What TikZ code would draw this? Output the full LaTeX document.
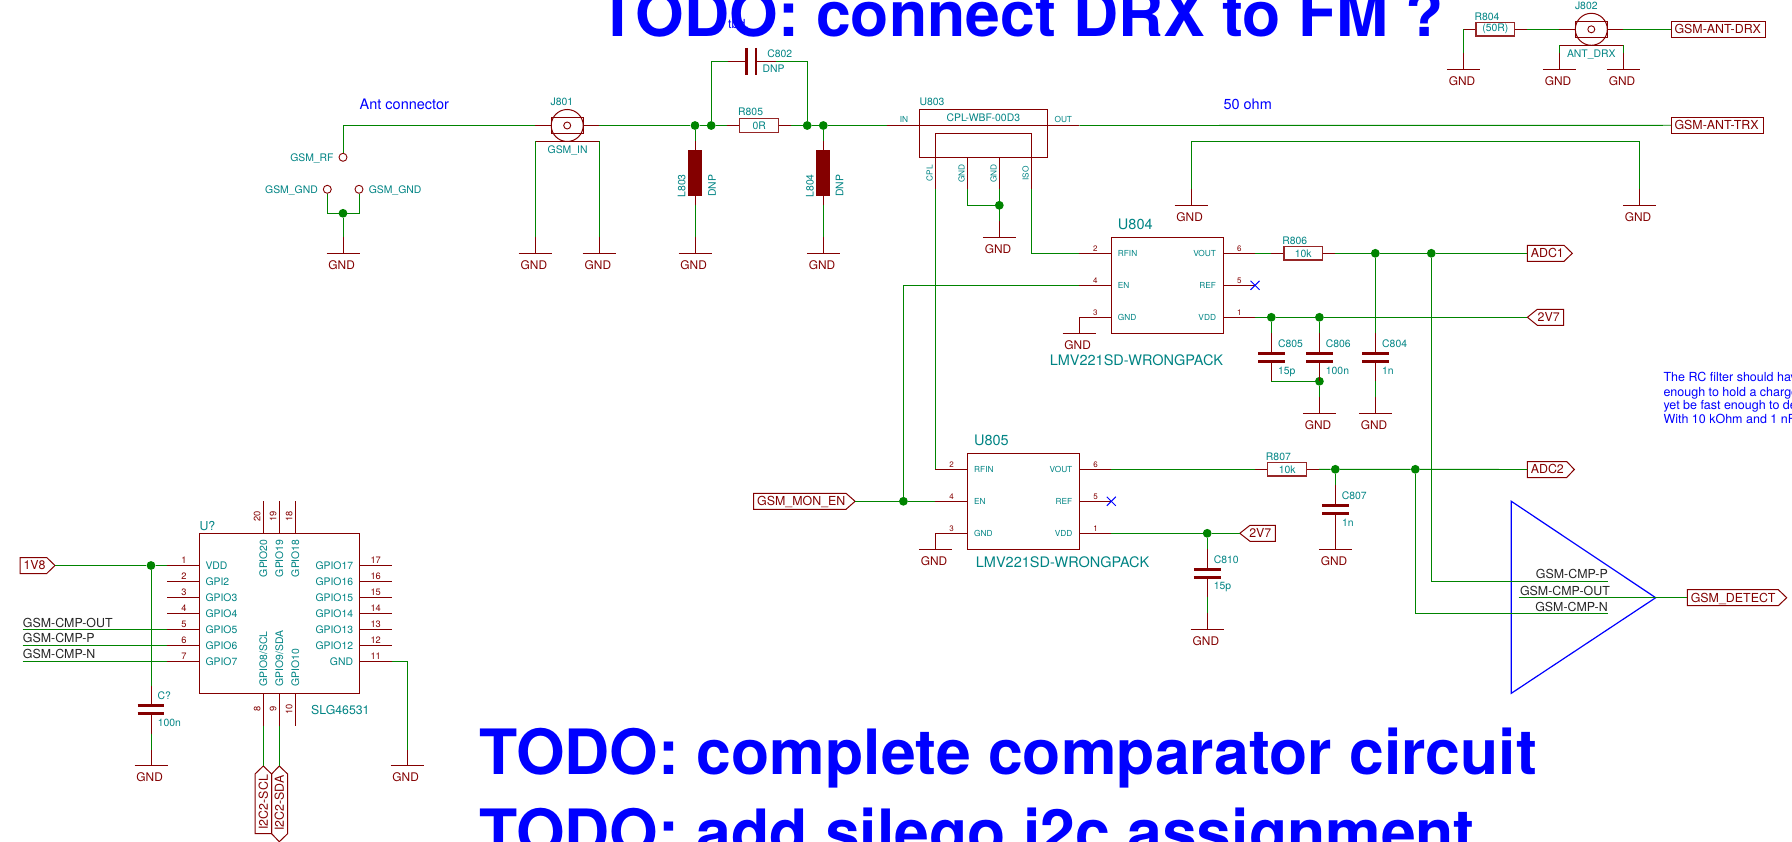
\documentclass[tikz,border=0pt]{standalone}
\usepackage{fontspec}
\setmainfont{TeX Gyre Heros}
\definecolor{kr}{RGB}{132,0,0}
\definecolor{wg}{RGB}{0,132,0}
\definecolor{kt}{RGB}{0,132,132}
\definecolor{kb}{RGB}{0,0,255}
\newcount\tcnt
\newcommand{\fs}[1]{\fontsize{#1}{#1}\selectfont}
\tikzset{
  x=1pt,y=-1pt,
  wire/.style={draw=wg,line width=.9pt},
  pinl/.style={draw=kr,line width=.9pt},
  boxl/.style={draw=kr,line width=1pt},
  lab/.style={draw=kr,line width=1pt,line join=miter},
  juncd/.style={circle,fill=wg,draw=none,minimum size=8.8pt,inner sep=0pt},
  tpt/.style={circle,draw=kr,line width=.9pt,fill=none,minimum size=8pt,inner sep=0pt},
  plate/.style={draw=kr,line width=2.8pt},
  resb/.style={rectangle,draw=kr!85,line width=1.1pt,fill=white,minimum width=38.6pt,minimum height=13.4pt,inner sep=0pt},
  indb/.style={rectangle,draw=none,fill=kr,minimum width=14pt,minimum height=45.6pt,inner sep=0pt},
  txt/.style={inner sep=0pt,text depth=0pt},
  tl/.style={txt,text height=7.5pt,text=kt,font=\fs{10.4}},
  ts/.style={txt,text height=6pt,text=kt,font=\fs{8.3}},
  tm/.style={txt,text height=8.9pt,text=kt,font=\fs{12.3}},
  tb/.style={txt,text height=10.4pt,text=kt,font=\fs{14.5}},
  tn/.style={txt,text height=5.8pt,text=kr,font=\fs{8}},
  tnb/.style={txt,text height=6.7pt,text=kr,font=\fs{9.3}},
  tg/.style={txt,text height=8.6pt,text=kr,font=\fs{11.9}},
  tlab/.style={txt,text height=8.9pt,text=kr,font=\fs{12.4}},
  tk/.style={txt,text height=8.9pt,text=black!85,font=\fs{12.4}},
  note/.style={txt,text height=9pt,text=kb,font=\fs{12.5}},
  noteb/.style={txt,text height=10.4pt,text=kb,font=\fs{14.5}},
  huge/.style={inner sep=0pt,text=kb,font=\bfseries\fs{62.5},anchor=base west},
}
% generic named text
\newcommand{\tx}[4][tl]{\global\advance\tcnt by 1 \node[#1] (t\the\tcnt) at (#2,#3) {#4};}
\newcommand{\cn}[3]{\coordinate (#1) at (#2,#3);}
\newcommand{\jn}[3]{\node[juncd] (#1) at (#2,#3) {};}
% ground symbol: name, x, y of bar; name is the top of its stem
\newcommand{\gnd}[3]{%
  \coordinate (#1) at (#2,{#3-16});
  \coordinate (#1-b) at (#2,#3);
  \draw[pinl] (#1) -- (#1-b);
  \draw[pinl] ([xshift=-16.5pt]#1-b) -- ([xshift=16.5pt]#1-b);
  \tx[tg]{{#2-1.3}}{{#3+11.7}}{GND}}
% vertical capacitor: name, x, centre y
\newcommand{\capv}[3]{%
  \coordinate (#1-a) at (#2,{#3-24});
  \coordinate (#1-b) at (#2,{#3+24});
  \coordinate (#1-p) at (#2,{#3-4});
  \coordinate (#1-q) at (#2,{#3+4});
  \draw[pinl] (#1-a) -- (#1-p);
  \draw[pinl] (#1-q) -- (#1-b);
  \draw[plate] ([xshift=-13.3pt]#1-p) -- ([xshift=13.3pt]#1-p);
  \draw[plate] ([xshift=-13.3pt]#1-q) -- ([xshift=13.3pt]#1-q);}
% horizontal resistor: name, centre x, y, value
\newcommand{\resh}[4]{%
  \coordinate (#1-a) at ({#2-32},#3);
  \coordinate (#1-b) at ({#2+32},#3);
  \node[resb] (#1) at (#2,#3) {\fs{10.4}\textcolor{kt}{#4}};
  \draw[pinl] (#1-a) -- (#1);
  \draw[pinl] (#1) -- (#1-b);}
% inductor: name, x
\newcommand{\indv}[2]{%
  \node[indb] (#1) at (#2,173.3) {};
  \coordinate (#1-a) at (#2,141.3);
  \coordinate (#1-b) at (#2,205.3);
  \draw[pinl] (#1-a) -- (#1);
  \draw[pinl] (#1) -- (#1-b);}
% coax connector: name, x, y
\newcommand{\conn}[3]{%
  \node[circle,draw=kr,line width=1pt,minimum size=32pt,inner sep=0pt] (#1) at (#2,#3) {};
  \node[circle,draw=kr,line width=.9pt,minimum size=7pt,inner sep=0pt] (#1-c) at (#2,#3) {};
  \draw[boxl] ({#2-16},{#3-8}) rectangle ({#2+16},{#3+8});
  \coordinate (#1-a) at ({#2-32},#3);
  \coordinate (#1-b) at ({#2+32},#3);
  \coordinate (#1-g) at ({#2-32},{#3+16});
  \coordinate (#1-h) at ({#2+32},{#3+16});
  \draw[pinl] (#1-a) -- ({#2-16},#3);
  \draw[pinl] ({#2+16},#3) -- (#1-b);
  \draw[pinl] (#1-g) -- (#1-h);}
% LMV221 block: name, x left, y top
\newcommand{\lmv}[3]{%
  \node[rectangle,draw=kr,line width=1pt,minimum width=112pt,minimum height=96pt,inner sep=0pt] (#1) at ({#2+56},{#3+48}) {};
  \coordinate (#1-2) at ({#2-32},{#3+16});
  \coordinate (#1-4) at ({#2-32},{#3+48});
  \coordinate (#1-3) at ({#2-32},{#3+80});
  \coordinate (#1-6) at ({#2+144},{#3+16});
  \coordinate (#1-5) at ({#2+144},{#3+48});
  \coordinate (#1-1) at ({#2+144},{#3+80});
  \draw[pinl] (#1-2) -- ({#2},{#3+16});
  \draw[pinl] (#1-4) -- ({#2},{#3+48});
  \draw[pinl] (#1-3) -- ({#2},{#3+80});
  \draw[pinl] (#1-6) -- ({#2+112},{#3+16});
  \draw[pinl] (#1-5) -- ({#2+112},{#3+48});
  \draw[pinl] (#1-1) -- ({#2+112},{#3+80});
  \tx[tn]{{#2-15.6}}{{#3+11}}{2}\tx[tn]{{#2-15.6}}{{#3+43}}{4}\tx[tn]{{#2-15.6}}{{#3+75}}{3}
  \tx[tn]{{#2+128.4}}{{#3+11}}{6}\tx[tn]{{#2+128.4}}{{#3+43}}{5}\tx[tn]{{#2+128.4}}{{#3+75}}{1}
  \tx[ts,anchor=west]{{#2+6.7}}{{#3+16.5}}{RFIN}\tx[ts,anchor=west]{{#2+6.7}}{{#3+48.5}}{EN}\tx[ts,anchor=west]{{#2+6.7}}{{#3+80.5}}{GND}
  \tx[ts,anchor=east]{{#2+105.2}}{{#3+16.5}}{VOUT}\tx[ts,anchor=east]{{#2+105.2}}{{#3+48.5}}{REF}\tx[ts,anchor=east]{{#2+105.2}}{{#3+80.5}}{VDD}
  \draw[draw=kb,line width=1pt] ([shift={(-4.5pt,-4.5pt)}]#1-5) -- ([shift={(4.5pt,4.5pt)}]#1-5);
  \draw[draw=kb,line width=1pt] ([shift={(-4.5pt,4.5pt)}]#1-5) -- ([shift={(4.5pt,-4.5pt)}]#1-5);}
% plain box label: name, x1, x2, y, text
\newcommand{\rlab}[5]{%
  \coordinate (#1) at (#2,#4);
  \draw[lab] (#2,{#4-8}) rectangle (#3,{#4+8});
  \tx[tlab,anchor=west]{{#2+3.3}}{#4}{#5}}
% output label: name, x1, shoulder, tip, y, text
\newcommand{\olab}[6]{%
  \coordinate (#1) at (#2,#5);
  \coordinate (#1-t) at (#4,#5);
  \draw[lab] (#2,{#5-8}) -- (#3,{#5-8}) -- (#4,#5) -- (#3,{#5+8}) -- (#2,{#5+8}) -- cycle;
  \tx[tlab,anchor=west]{{#2+3.3}}{#5}{#6}}
% input label: name, tip, shoulder, x2, y, text
\newcommand{\ilab}[6]{%
  \coordinate (#1) at (#2,#5);
  \draw[lab] (#2,#5) -- (#3,{#5-8}) -- (#4,{#5-8}) -- (#4,{#5+8}) -- (#3,{#5+8}) -- cycle;
  \tx[tlab,anchor=east]{{#4-3.8}}{#5}{#6}}
\begin{document}
\begin{tikzpicture}
\useasboundingbox (0,0) rectangle (1792,842);
\fill[white] (0,0) rectangle (1792,842);
\clip (0,0) rectangle (1792,842);

% ---------- big notes
\tx[note]{738.5}{24}{tbd.}
\tx[huge]{598.5}{36.7}{TODO: connect DRX to FM ?}
\tx[huge]{479}{774.7}{TODO: complete comparator circuit}
\tx[huge]{479}{854.7}{TODO: add silego i2c assignment}
\tx[noteb,anchor=west]{359.5}{104}{Ant connector}
\tx[noteb,anchor=west]{1223.3}{104}{50 ohm}
\tx[note,anchor=west]{1663.3}{377.3}{The RC filter should have}
\tx[note,anchor=west]{1663.3}{391.5}{enough to hold a charge}
\tx[note,anchor=west]{1663.3}{405}{yet be fast enough to detect}
\tx[note,anchor=west]{1663.3}{418.7}{With 10 kOhm and 1 nF}

% ---------- antenna input
\node[tpt] (tpRF) at (343,157.3) {};
\node[tpt] (tpG1) at (327.3,189.3) {};
\node[tpt] (tpG2) at (359,189.3) {};
\tx[tl,anchor=east]{333.8}{157.3}{GSM\_RF}
\tx[tl,anchor=east]{318}{189.3}{GSM\_GND}
\tx[tl,anchor=west]{368.6}{189.3}{GSM\_GND}
\cn{rfc}{343}{125.5}
\jn{jtp}{343}{213.3}
\cn{tpa}{327.3}{213.3}
\cn{tpb}{359}{213.3}
\gnd{g1}{343}{253.3}
\draw[wire] (tpRF) -- (rfc);
\draw[wire] (tpG1) -- (tpa) -- (tpb) -- (tpG2);
\draw[wire] (jtp) -- (g1);

\conn{J801}{567.2}{125.5}
\tx{562}{101.3}{J801}
\tx{567.6}{149.7}{GSM\_IN}
\gnd{g2}{535.2}{253.3}
\gnd{g3}{599.2}{253.3}
\draw[wire] (rfc) -- (J801-a);
\draw[wire] (J801-g) -- (g2);
\draw[wire] (J801-h) -- (g3);

% ---------- pi network
\jn{j695}{695}{125.5}
\jn{j711}{711.2}{125.5}
\jn{j807}{807.2}{125.5}
\jn{j823}{823.3}{125.5}
\resh{R805}{759.2}{125.5}{0R}
\tx{750.6}{112}{R805}
\indv{L803}{695}
\indv{L804}{823.3}
\tx[tl,rotate=90]{681.7}{186}{L803}
\tx[tl,rotate=90]{712}{186}{DNP}
\tx[tl,rotate=90]{809.9}{186}{L804}
\tx[tl,rotate=90]{839.7}{186}{DNP}
\gnd{g4}{695}{253.3}
\gnd{g5}{823.3}{253.3}
\cn{C802-a}{727.6}{61.3}
\cn{C802-b}{775.6}{61.3}
\cn{C802-l}{711.2}{61.3}
\cn{C802-r}{807.2}{61.3}
\cn{C802-p}{746.7}{61.3}
\cn{C802-q}{756}{61.3}
\draw[pinl] (C802-a) -- (C802-p);
\draw[pinl] (C802-q) -- (C802-b);
\draw[plate] (746.7,48) -- (746.7,74.7);
\draw[plate] (756,48) -- (756,74.7);
\tx{779.7}{53.3}{C802}
\tx{773.5}{69}{DNP}
\draw[wire] (j711) -- (C802-l) -- (C802-a);
\draw[wire] (C802-b) -- (C802-r) -- (j807);
\draw[wire] (J801-b) -- (j695) -- (j711) -- (R805-a);
\draw[wire] (R805-b) -- (j807) -- (j823);
\draw[wire] (j695) -- (L803-a);
\draw[wire] (j823) -- (L804-a);
\draw[wire] (L803-b) -- (g4);
\draw[wire] (L804-b) -- (g5);

% ---------- coupler U803
\node[rectangle,draw=kr,line width=1pt,minimum width=128.3pt,minimum height=48pt,inner sep=0pt] (U803) at (983.2,133.3) {};
\cn{U803-in}{887.3}{125.5}
\cn{U803-out}{1079.3}{125.5}
\cn{U803-cpl}{935.3}{189.3}
\cn{U803-g1}{967.3}{189.3}
\cn{U803-g2}{999.3}{189.3}
\cn{U803-iso}{1031.3}{189.3}
\draw[pinl] (U803-in) -- (U803-out);
\draw[pinl] (U803-cpl) -- (935.3,133.3) -- (1031.3,133.3) -- (U803-iso);
\draw[pinl] (967.3,157.3) -- (U803-g1);
\draw[pinl] (999.3,157.3) -- (U803-g2);
\tx[tl,anchor=west]{919.3}{101.3}{U803}
\tx{983.3}{117.3}{CPL-WBF-00D3}
\tx[ts]{904}{120}{IN}
\tx[ts]{1063.3}{120}{OUT}
\tx[ts,rotate=90]{929.7}{173.3}{CPL}
\tx[ts,rotate=90]{961.7}{173.3}{GND}
\tx[ts,rotate=90]{993.7}{173.3}{GND}
\tx[ts,rotate=90]{1025.7}{173.3}{ISO}
\draw[wire] (j823) -- (U803-in);
\jn{jc}{999.3}{205.3}
\cn{jcl}{967.3}{205.3}
\gnd{g6}{999.3}{237.3}
\draw[wire] (U803-g1) -- (jcl) -- (jc);
\draw[wire] (U803-g2) -- (g6);

\rlab{TRX}{1671}{1763.7}{125.3}{GSM-ANT-TRX}
\draw[wire] (U803-out) -- (TRX);

% long ground loop
\gnd{g7}{1191}{205.3}
\gnd{g8}{1639.3}{205.3}
\cn{lp1}{1191}{141.3}
\cn{lp2}{1639.3}{141.3}
\draw[wire] (g7) -- (lp1) -- (lp2) -- (g8);

% ---------- DRX corner
\resh{R804}{1495.3}{29.3}{(50R)}
\tx{1487}{16.3}{R804}
\cn{R804-c}{1463.3}{29.3}
\gnd{g9}{1463.3}{69.3}
\draw[wire] (R804-a) -- (g9);
\conn{J802}{1591.3}{29.3}
\tx{1586.3}{5.7}{J802}
\tx{1591.3}{53.3}{ANT\_DRX}
\gnd{g10}{1559.3}{69.3}
\gnd{g11}{1623.3}{69.3}
\draw[wire] (J802-g) -- (g10);
\draw[wire] (J802-h) -- (g11);
\rlab{DRX}{1671}{1765.3}{29.3}{GSM-ANT-DRX}
\draw[wire] (R804-b) -- (J802-a);
\draw[wire] (J802-b) -- (DRX);

% ---------- U804
\lmv{U804}{1111}{237.3}
\tx[tb]{1135.3}{224}{U804}
\tx[tb,anchor=east]{1223.3}{360}{LMV221SD-WRONGPACK}
\gnd{g12}{1079}{333.3}
\resh{R806}{1303.3}{253.3}{10k}
\tx{1294.7}{240.3}{R806}
\jn{j1375}{1375.3}{253.3}
\jn{j1431}{1431.3}{253.3}
\jn{j1271}{1271.3}{317.3}
\jn{j1319}{1319.4}{317.3}
\jn{j1319b}{1319.4}{381.3}
\olab{ADC1}{1527.3}{1564}{1572.3}{253.3}{ADC1}
\ilab{TVa}{1527.4}{1537.3}{1563.7}{317.3}{2V7}
\capv{C805}{1271.3}{357.3}
\capv{C806}{1319.4}{357.3}
\capv{C804}{1375.3}{357.3}
\cn{C805-c}{1271.3}{381.3}
\gnd{g13}{1319.4}{413.3}
\gnd{g14}{1375.3}{413.3}
\tx[tl,anchor=west]{1277.8}{343.3}{C805}
\tx[tl,anchor=west]{1277.8}{370.3}{15p}
\tx[tl,anchor=west]{1325.7}{343.3}{C806}
\tx[tl,anchor=west]{1325.7}{370.3}{100n}
\tx[tl,anchor=west]{1382}{343.3}{C804}
\tx[tl,anchor=west]{1382}{370.3}{1n}
\draw[wire] (U804-6) -- (R806-a);
\draw[wire] (R806-b) -- (j1375) -- (j1431) -- (ADC1);
\draw[wire] (U804-1) -- (j1271) -- (j1319) -- (TVa);
\draw[wire] (j1271) -- (C805-a);
\draw[wire] (j1319) -- (C806-a);
\draw[wire] (j1375) -- (C804-a);
\draw[wire] (C805-b) -- (j1319b);
\draw[wire] (j1319b) -- (g13);
\draw[wire] (C804-b) -- (g14);

% ---------- U805
\lmv{U805}{967.3}{453.3}
\tx[tb]{991.4}{440.3}{U805}
\tx[tb,anchor=west]{975.7}{562}{LMV221SD-WRONGPACK}
\gnd{g15}{935.3}{549.3}
\olab{MON}{753.7}{846}{855.1}{501.3}{GSM\_MON\_EN}
\jn{jmon}{903.4}{501.3}
\draw[wire] (MON-t) -- (jmon) -- (U805-4);
\cn{enc}{903.4}{285.3}
\draw[wire] (jmon) -- (enc) -- (U804-4);
\draw[wire] (U803-cpl) -- (U805-2);
\draw[wire] (U803-iso) |- (U804-2);
\resh{R807}{1287.2}{469.3}{10k}
\tx{1278.4}{456.3}{R807}
\jn{j1335}{1335.3}{469.3}
\jn{j1415}{1415.3}{469.3}
\olab{ADC2}{1527.3}{1566.7}{1574.3}{469.5}{ADC2}
\capv{C807}{1335.3}{509.3}
\gnd{g16}{1335.3}{549.3}
\tx[tl,anchor=west]{1341.7}{495.3}{C807}
\tx[tl,anchor=west]{1342}{522.3}{1n}
\draw[wire] (U805-6) -- (R807-a);
\draw[wire] (R807-b) -- (j1335) -- (j1415) -- (ADC2);
\draw[wire] (j1335) -- (C807-a);
\jn{j1207}{1207.2}{533.3}
\ilab{TVb}{1239.8}{1250}{1275.3}{533.3}{2V7}
\capv{C810}{1207.2}{573.3}
\gnd{g17}{1207.2}{629.3}
\tx[tl,anchor=west]{1213.7}{559.3}{C810}
\tx[tl,anchor=west]{1213.7}{585.7}{15p}
\draw[wire] (U805-1) -- (j1207) -- (TVb);
\draw[wire] (j1207) -- (C810-a);
\draw[wire] (C810-b) -- (g17);

% ---------- comparator
\coordinate (cmpA) at (1511.3,501.3);
\coordinate (cmpT) at (1655.7,597.7);
\coordinate (cmpB) at (1511.3,693.3);
\draw[draw=kb,line width=1.2pt,line join=miter] (cmpA) -- (cmpT) -- (cmpB) -- cycle;
\cn{cmpP}{1608}{581.7}
\cn{cmpPc}{1431.3}{581.7}
\cn{cmpN}{1608}{613.7}
\cn{cmpNc}{1415.3}{613.7}
\cn{cmpO}{1518.7}{597.7}
\olab{DET}{1687.3}{1778.3}{1786.7}{597.7}{GSM\_DETECT}
\draw[wire] (j1431) -- (cmpPc) -- (cmpP);
\draw[wire] (j1415) -- (cmpNc) -- (cmpN);
\draw[wire] (cmpO) -- (DET);
\tx[tk,anchor=east]{1608}{574.3}{GSM-CMP-P}
\tx[tk,anchor=east]{1610}{590.7}{GSM-CMP-OUT}
\tx[tk,anchor=east]{1608}{606.7}{GSM-CMP-N}

% ---------- SLG46531
\node[rectangle,draw=kr,line width=1pt,minimum width=160pt,minimum height=160pt,inner sep=0pt] (USLG) at (279.3,613.3) {};
\tx[tm,anchor=west]{199.3}{525.7}{U?}
\tx[tm,anchor=west]{311}{709.7}{SLG46531}
\foreach \n/\m [count=\i from 0] in {1/VDD,2/GPI2,3/GPIO3,4/GPIO4,5/GPIO5,6/GPIO6,7/GPIO7}{
  \coordinate (SL\n) at (167.3,{565.5+16*\i});
  \draw[pinl] (SL\n) -- (199.3,{565.5+16*\i});
  \tx[tnb]{184}{{559.7+16*\i}}{\n}
  \tx[tl,anchor=west]{205.3}{{566+16*\i}}{\m}
}
\foreach \n/\m [count=\i from 0] in {17/GPIO17,16/GPIO16,15/GPIO15,14/GPIO14,13/GPIO13,12/GPIO12,11/GND}{
  \coordinate (SR\n) at (392,{565.5+16*\i});
  \draw[pinl] (359.3,{565.5+16*\i}) -- (SR\n);
  \tx[tnb]{375.7}{{559.7+16*\i}}{\n}
  \tx[tl,anchor=east]{353.3}{{566+16*\i}}{\m}
}
\foreach \n/\m/\xx in {20/GPIO20/263.3,19/GPIO19/279.3,18/GPIO18/295.3}{
  \coordinate (ST\n) at (\xx,501);
  \draw[pinl] (ST\n) -- (\xx,533.3);
  \tx[tnb,rotate=90]{{\xx-6.3}}{516.7}{\n}
  \tx[tl,rotate=90,anchor=east]{\xx}{539.3}{\m}
}
\foreach \n/\m/\xx in {8/GPIO8\slash SCL/263.3,9/GPIO9\slash SDA/279.3,10/GPIO10/295.3}{
  \coordinate (SB\n) at (\xx,725.7);
  \draw[pinl] (\xx,693.3) -- (SB\n);
  \tx[tnb,rotate=90]{{\xx-6.3}}{709}{\n}
  \tx[tl,rotate=90,anchor=west]{\xx}{686.7}{\m}
}
\olab{VIN}{20}{46.7}{55}{565.5}{1V8}
\jn{j151}{151}{565.5}
\capv{CQ}{151}{709.7}
\gnd{g18}{151}{765.7}
\tx[tl,anchor=west]{157.5}{695.3}{C?}
\tx[tl,anchor=west]{157.7}{722.3}{100n}
\draw[wire] (VIN-t) -- (j151) -- (SL1);
\draw[wire] (j151) -- (CQ-a);
\draw[wire] (CQ-b) -- (g18);
\cn{sigO}{22.7}{629.5}
\cn{sigP}{22.7}{645.5}
\cn{sigN}{22.7}{661.5}
\draw[wire] (sigO) -- (SL5);
\draw[wire] (sigP) -- (SL6);
\draw[wire] (sigN) -- (SL7);
\tx[tk,anchor=west]{22.7}{622.7}{GSM-CMP-OUT}
\tx[tk,anchor=west]{22.7}{638.5}{GSM-CMP-P}
\tx[tk,anchor=west]{22.7}{654.5}{GSM-CMP-N}
\gnd{g19}{407}{765.7}
\cn{gr}{407}{661.5}
\draw[wire] (SR11) -- (gr) -- (g19);
% I2C labels
\cn{sclT}{263.3}{766}
\cn{sdaT}{279.3}{766}
\draw[lab] (sclT) -- (271.6,774) -- (271.6,833.7) -- (255,833.7) -- (255,774) -- cycle;
\draw[lab] (sdaT) -- (287.6,774) -- (287.6,833.7) -- (279.3,841.7) -- (271.6,833.7) -- (271.6,774) -- cycle;
\tx[tlab,rotate=90]{263.3}{802.3}{I2C2-SCL}
\tx[tlab,rotate=90]{279.3}{803.3}{I2C2-SDA}
\draw[wire] (SB8) -- (sclT);
\draw[wire] (SB9) -- (sdaT);
\end{tikzpicture}
\end{document}
